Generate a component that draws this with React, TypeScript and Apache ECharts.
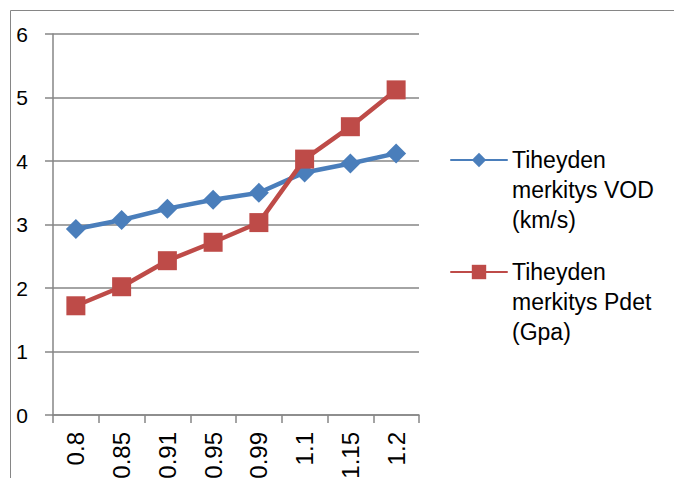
import React, { useEffect, useRef } from "react";
import * as echarts from "echarts";

const categories = ["0.8", "0.85", "0.91", "0.95", "0.99", "1.1", "1.15", "1.2"];
const vodValues = [2.93, 3.07, 3.25, 3.39, 3.5, 3.82, 3.96, 4.12];
const pdetValues = [1.72, 2.02, 2.43, 2.72, 3.03, 4.03, 4.54, 5.12];
const vodName = "Tiheyden\nmerkitys VOD\n(km/s)";
const pdetName = "Tiheyden\nmerkitys Pdet\n(Gpa)";

const FONT = "'Liberation Sans', Arial, sans-serif";

export default function App() {
  const ref = useRef<HTMLDivElement>(null);
  useEffect(() => {
    if (!ref.current) return;
    const chart = echarts.init(ref.current, undefined, { renderer: "svg" });
    const legendText = {
      fontFamily: FONT,
      fontSize: 23,
      lineHeight: 30,
      color: "#000",
    };
    const legendBase = {
      orient: "vertical",
      left: 450,
      padding: 0,
      itemWidth: 56,
      itemHeight: 18,
      itemGap: 0,
      formatter: (name: string) => "\n\n" + name,
      textStyle: legendText,
    };
    chart.setOption({
      animation: false,
      backgroundColor: "#fff",
      textStyle: { fontFamily: FONT },
      graphic: [
        {
          type: "rect",
          z: -10,
          silent: true,
          shape: { x: 10.5, y: 10.5, width: 800, height: 600 },
          style: { fill: "none", stroke: "#868686", lineWidth: 1 },
        },
      ],
      grid: {
        left: 53,
        right: 255,
        top: 34,
        bottom: 63,
        containLabel: false,
        outerBoundsMode: "none",
      },
      legend: [
        { ...legendBase, data: [vodName], top: 85 },
        { ...legendBase, data: [pdetName], top: 197 },
      ],
      xAxis: {
        type: "category",
        data: categories,
        boundaryGap: true,
        axisLine: { lineStyle: { color: "#868686", width: 1.5 } },
        axisTick: { show: true, length: 8, inside: false, lineStyle: { color: "#868686", width: 1.5 } },
        axisLabel: {
          rotate: 90,
          margin: 17,
          color: "#000",
          fontFamily: FONT,
          fontSize: 24,
        },
        splitLine: { show: false },
      },
      yAxis: {
        type: "value",
        min: 0,
        max: 6,
        interval: 1,
        axisLine: { show: true, lineStyle: { color: "#868686", width: 1.5 } },
        axisTick: { show: true, length: 8, lineStyle: { color: "#868686", width: 1.5 } },
        axisLabel: {
          margin: 25,
          color: "#000",
          fontFamily: FONT,
          fontSize: 21,
        },
        splitLine: { show: true, lineStyle: { color: "#868686", width: 1.5 } },
      },
      series: [
        {
          name: vodName,
          type: "line",
          data: vodValues,
          symbol: "diamond",
          symbolSize: 20,
          color: "#4A7EBB",
          lineStyle: { color: "#4A7EBB", width: 4.5, cap: "round" },
          itemStyle: { color: "#4A7EBB" },
          z: 3,
        },
        {
          name: pdetName,
          type: "line",
          data: pdetValues,
          symbol: "rect",
          symbolSize: 19,
          color: "#BE4B48",
          lineStyle: { color: "#BE4B48", width: 4.5, cap: "round" },
          itemStyle: { color: "#BE4B48" },
          z: 4,
        },
      ],
    });
    return () => chart.dispose();
  }, []);
  return (
    <div
      ref={ref}
      style={{ position: "fixed", left: 0, top: 0, width: 674, height: 478 }}
    />
  );
}
